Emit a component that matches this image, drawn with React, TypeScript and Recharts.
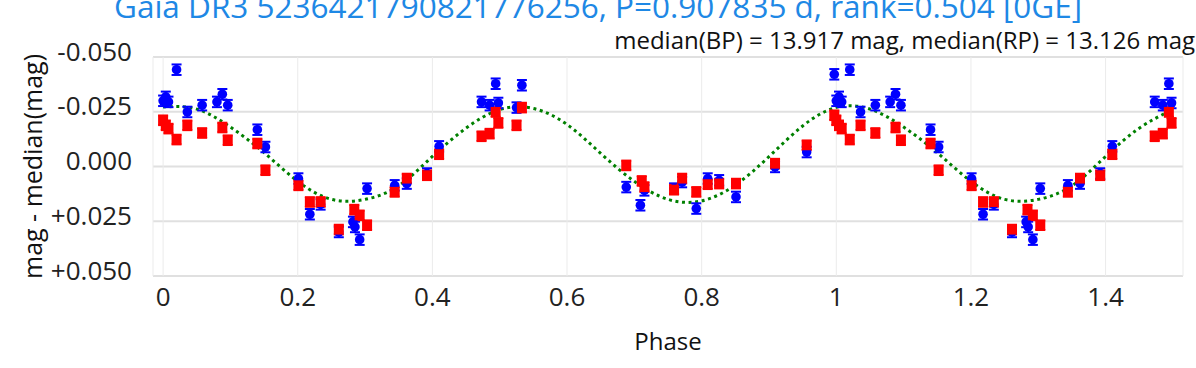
import {
  CartesianGrid,
  ComposedChart,
  ErrorBar,
  Line,
  Scatter,
  XAxis,
  YAxis,
} from "recharts";

const TITLE = "Gaia DR3 5236421790821776256, P=0.907835 d, rank=0.504 [0GE]";
const SUBTITLE = "median(BP) = 13.917 mag, median(RP) = 13.126 mag";

const X_TICKS = [0, 0.2, 0.4, 0.6, 0.8, 1, 1.2, 1.4];
const Y_TICKS = [-0.05, -0.025, 0, 0.025, 0.05];

// [phase, mag - median, error] for one cycle; phases < 0.5 are shown again at phase + 1
const BP_POINTS: [number, number, number][] = [
  [0.0, -0.03, 0.0024],
  [0.004, -0.0318, 0.0024],
  [0.008, -0.0295, 0.0024],
  [0.02, -0.0442, 0.0024],
  [0.036, -0.0249, 0.0024],
  [0.058, -0.028, 0.0024],
  [0.08, -0.0295, 0.0024],
  [0.088, -0.033, 0.0024],
  [0.096, -0.028, 0.0024],
  [0.14, -0.0168, 0.0024],
  [0.152, -0.0089, 0.0024],
  [0.201, 0.0055, 0.0024],
  [0.218, 0.0218, 0.0024],
  [0.234, 0.0173, 0.0024],
  [0.261, 0.0299, 0.0024],
  [0.282, 0.0253, 0.0024],
  [0.285, 0.0276, 0.0024],
  [0.292, 0.0334, 0.0024],
  [0.303, 0.0101, 0.0024],
  [0.344, 0.0086, 0.0024],
  [0.362, 0.0078, 0.0024],
  [0.392, 0.0032, 0.0024],
  [0.41, -0.0092, 0.0024],
  [0.473, -0.0295, 0.0024],
  [0.485, -0.028, 0.0024],
  [0.494, -0.0378, 0.0024],
  [0.498, -0.029, 0.0024],
  [0.525, -0.0269, 0.0024],
  [0.533, -0.0371, 0.0024],
  [0.688, 0.0094, 0.0024],
  [0.709, 0.0177, 0.0024],
  [0.715, 0.0109, 0.0024],
  [0.759, 0.0101, 0.0024],
  [0.771, 0.0071, 0.0024],
  [0.792, 0.0192, 0.0024],
  [0.809, 0.0055, 0.0024],
  [0.826, 0.0063, 0.0024],
  [0.851, 0.0139, 0.0024],
  [0.909, 0.0002, 0.0024],
  [0.956, -0.0066, 0.0024],
  [0.997, -0.0421, 0.0024],
];

const RP_POINTS: [number, number, number][] = [
  [0.0, -0.0211, 0.0022],
  [0.004, -0.0188, 0.0022],
  [0.008, -0.0173, 0.0022],
  [0.02, -0.0123, 0.0022],
  [0.036, -0.0188, 0.0022],
  [0.058, -0.0153, 0.0022],
  [0.088, -0.0178, 0.0022],
  [0.096, -0.012, 0.0022],
  [0.14, -0.0105, 0.0022],
  [0.152, 0.0017, 0.0022],
  [0.201, 0.0086, 0.0022],
  [0.218, 0.0162, 0.0022],
  [0.234, 0.0162, 0.0022],
  [0.261, 0.0288, 0.0022],
  [0.284, 0.0197, 0.0022],
  [0.292, 0.0223, 0.0022],
  [0.303, 0.0268, 0.0022],
  [0.344, 0.0116, 0.0022],
  [0.362, 0.0055, 0.0022],
  [0.392, 0.004, 0.0022],
  [0.41, -0.0056, 0.0022],
  [0.473, -0.0138, 0.0022],
  [0.485, -0.015, 0.0022],
  [0.494, -0.0249, 0.0022],
  [0.498, -0.0199, 0.0022],
  [0.525, -0.0188, 0.0022],
  [0.533, -0.0269, 0.0022],
  [0.688, -0.0005, 0.0022],
  [0.711, 0.0066, 0.0022],
  [0.715, 0.0094, 0.0022],
  [0.759, 0.0106, 0.0022],
  [0.771, 0.0055, 0.0022],
  [0.792, 0.0116, 0.0022],
  [0.809, 0.0081, 0.0022],
  [0.826, 0.0078, 0.0022],
  [0.851, 0.0078, 0.0022],
  [0.909, -0.0013, 0.0022],
  [0.956, -0.0097, 0.0022],
  [0.997, -0.0234, 0.0022],
];

// model curve, one cycle
const MODEL_PHASE = [
  0, 0.05, 0.1, 0.15, 0.2, 0.25, 0.3, 0.35, 0.4, 0.45, 0.5, 0.55, 0.6, 0.65,
  0.7, 0.75, 0.8, 0.85, 0.9, 0.95, 1,
];
const MODEL_MAG = [
  -0.0272, -0.0262, -0.018, -0.0063, 0.0068, 0.015, 0.015, 0.0088, -0.0046,
  -0.0175, -0.026, -0.0265, -0.0192, -0.006, 0.0068, 0.015, 0.0157, 0.0085,
  -0.0045, -0.0185, -0.027,
];

const FONT = "'Open Sans', sans-serif";
const BP_COLOR = "#0000ff";
const RP_COLOR = "#ff0000";
const MODEL_COLOR = "#008000";

function foldPoints(points: [number, number, number][]) {
  const out = points.map(([phase, mag, err]) => ({ phase, mag, err }));
  points.forEach(([phase, mag, err]) => {
    if (phase < 0.5) out.push({ phase: phase + 1, mag, err });
  });
  return out;
}

const bpData = foldPoints(BP_POINTS);
const rpData = foldPoints(RP_POINTS);

const modelData = MODEL_PHASE.map((phase, i) => ({ phase, mag: MODEL_MAG[i] }));
MODEL_PHASE.forEach((phase, i) => {
  if (phase > 0 && phase <= 0.5) modelData.push({ phase: phase + 1, mag: MODEL_MAG[i] });
});

function formatY(v: number) {
  const s = Math.abs(v).toFixed(3);
  if (v > 0) return `+${s}`;
  if (v < 0) return `-${s}`;
  return s;
}

function YTick({ x, y, payload }: any) {
  return (
    <text x={x - 21} y={y + 3.5} textAnchor="end" fontSize={26} fontFamily={FONT} fill="#222">
      {formatY(payload.value)}
    </text>
  );
}

function XTick({ x, y, payload }: any) {
  return (
    <text x={x} y={y + 30} textAnchor="middle" fontSize={26} fontFamily={FONT} fill="#222">
      {String(Number(payload.value.toFixed(1)))}
    </text>
  );
}

function Circle({ cx, cy }: any) {
  return <circle cx={cx} cy={cy} r={4.8} fill={BP_COLOR} />;
}

function Square({ cx, cy }: any) {
  return <rect x={cx - 5} y={cy - 5} width={10} height={10} fill={RP_COLOR} />;
}

export default function App() {
  return (
    <div style={{ position: "absolute", left: 0, top: 0, width: 1196, height: 368, background: "#fff" }}>
      <ComposedChart width={1196} height={368} margin={{ top: 57, right: 13, bottom: 0, left: 0 }}>
        <CartesianGrid vertical={false} stroke="#e0e0e0" strokeWidth={2} />
        <CartesianGrid horizontal={false} stroke="#ebebeb" strokeWidth={1} />
        <XAxis
          type="number"
          dataKey="phase"
          domain={[-0.015, 1.515]}
          ticks={X_TICKS}
          allowDataOverflow
          height={92}
          axisLine={false}
          tickLine={false}
          tickSize={0}
          tickMargin={0}
          tick={<XTick />}
          interval={0}
        />
        <YAxis
          type="number"
          dataKey="mag"
          domain={[-0.05, 0.05]}
          ticks={Y_TICKS}
          reversed
          allowDataOverflow
          width={153}
          axisLine={false}
          tickLine={false}
          tickSize={0}
          tickMargin={0}
          tick={<YTick />}
          interval={0}
        />
        <Line
          data={modelData}
          dataKey="mag"
          type="natural"
          stroke={MODEL_COLOR}
          strokeWidth={3}
          strokeDasharray="3 3.6"
          dot={false}
          activeDot={false}
          isAnimationActive={false}
        />
        <Scatter data={bpData} dataKey="mag" shape={<Circle />} isAnimationActive={false}>
          <ErrorBar dataKey="err" direction="y" width={5} stroke={BP_COLOR} strokeWidth={2} />
        </Scatter>
        <Scatter data={rpData} dataKey="mag" shape={<Square />} isAnimationActive={false}>
          <ErrorBar dataKey="err" direction="y" width={5} stroke={RP_COLOR} strokeWidth={2} />
        </Scatter>
      </ComposedChart>
      <svg
        width={1196}
        height={368}
        style={{ position: "absolute", left: 0, top: 0, pointerEvents: "none" }}
      >
        <text x={598} y={18.3} textAnchor="middle" fontSize={31.5} fontFamily={FONT} fill="#1e88e5">
          {TITLE}
        </text>
        <text x={1195} y={49.3} textAnchor="end" fontSize={24} fontFamily={FONT} fill="#111">
          {SUBTITLE}
        </text>
        <text x={668} y={350} textAnchor="middle" fontSize={24} fontFamily={FONT} fill="#111">
          Phase
        </text>
        <text
          transform="translate(41.7,166.5) rotate(-90)"
          textAnchor="middle"
          fontSize={25}
          fontFamily={FONT}
          fill="#111"
        >
          mag - median(mag)
        </text>
      </svg>
    </div>
  );
}
